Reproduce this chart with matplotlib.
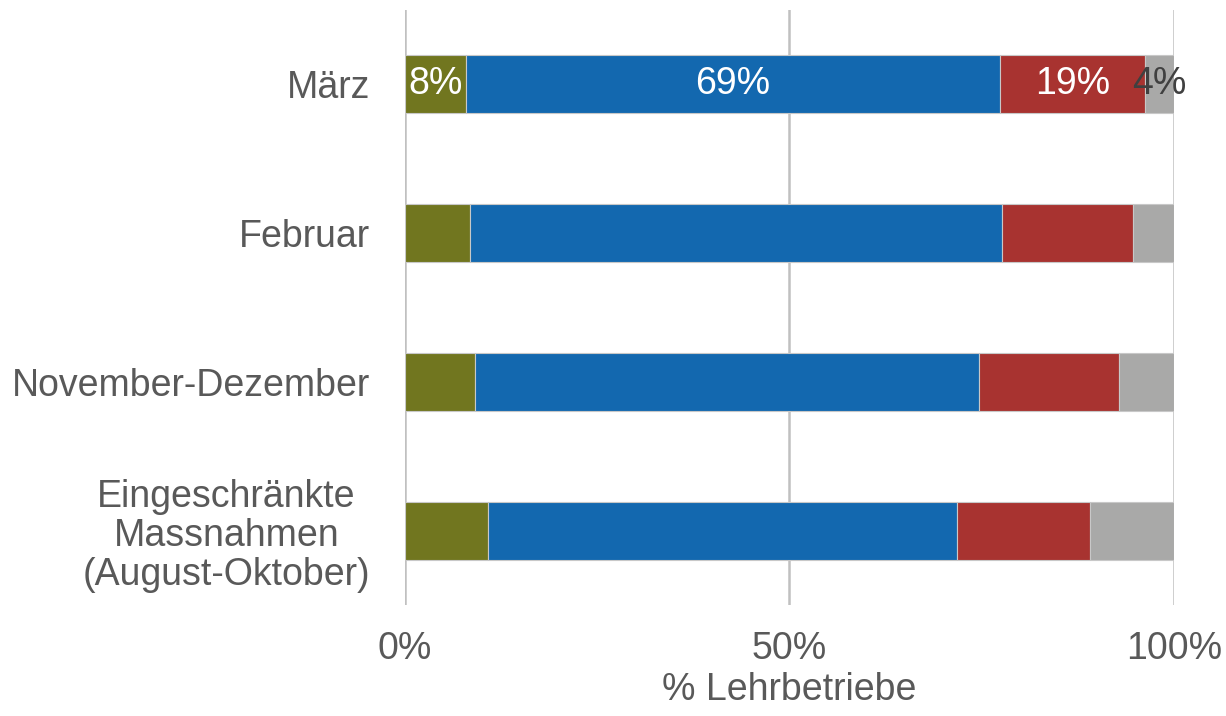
import matplotlib.pyplot as plt
import numpy as np

plt.rcParams['font.family'] = ['Liberation Sans', 'DejaVu Sans']

kategorien = ['März', 'Februar', 'November-Dezember',
              'Eingeschränkte\nMassnahmen\n(August-Oktober)']
gruen = [7.9, 8.5, 9.1, 10.8]
blau = [69.5, 69.1, 65.5, 61.0]
rot = [18.8, 17.1, 18.2, 17.3]
grau = [3.8, 5.3, 7.2, 10.9]
labels_maerz = ['8%', '69%', '19%', '4%']

farben = ['#71761f', '#1368af', '#a83330', '#a9a9a8']
textfarbe = '#595959'
fs = 27

fig = plt.figure(figsize=(12.26, 7.16), dpi=100)
ax = fig.add_axes([0.3303, 0.155, 0.6273, 0.831])

y = np.arange(len(kategorien))
links = np.zeros(len(kategorien))
serien = [gruen, blau, rot, grau]
for werte, farbe in zip(serien, farben):
    ax.barh(y, werte, left=links, height=0.39, color=farbe,
            edgecolor='#c8c8c8', linewidth=0.8, zorder=3)
    links = links + np.array(werte)

# Datenbeschriftungen nur für März
start = 0
for i, (werte, txt) in enumerate(zip(serien, labels_maerz)):
    w = werte[0]
    col = 'white' if i < 3 else '#404040'
    ax.text(start + w / 2, 0, txt, ha='center', va='center',
            fontsize=fs, color=col, zorder=4)
    start += w

ax.set_xlim(0, 100)
ax.set_ylim(len(kategorien) - 0.5, -0.5)
ax.set_yticks(y)
ax.set_yticklabels(kategorien, fontsize=fs, color=textfarbe, linespacing=1.1)
for lbl in ax.get_yticklabels():
    lbl.set_multialignment('center')
ax.set_xticks([0, 50, 100])
ax.set_xticklabels(['0%', '50%', '100%'], fontsize=fs, color=textfarbe)
ax.tick_params(axis='y', length=0, pad=25)
ax.tick_params(axis='x', length=0, pad=19)
ax.set_xlabel('% Lehrbetriebe', fontsize=fs, color=textfarbe, labelpad=3)

ax.grid(axis='x', color='#c0c0c0', linewidth=1.8, zorder=0)
for s in ax.spines.values():
    s.set_visible(False)

fig.savefig('out.png', dpi=100)
